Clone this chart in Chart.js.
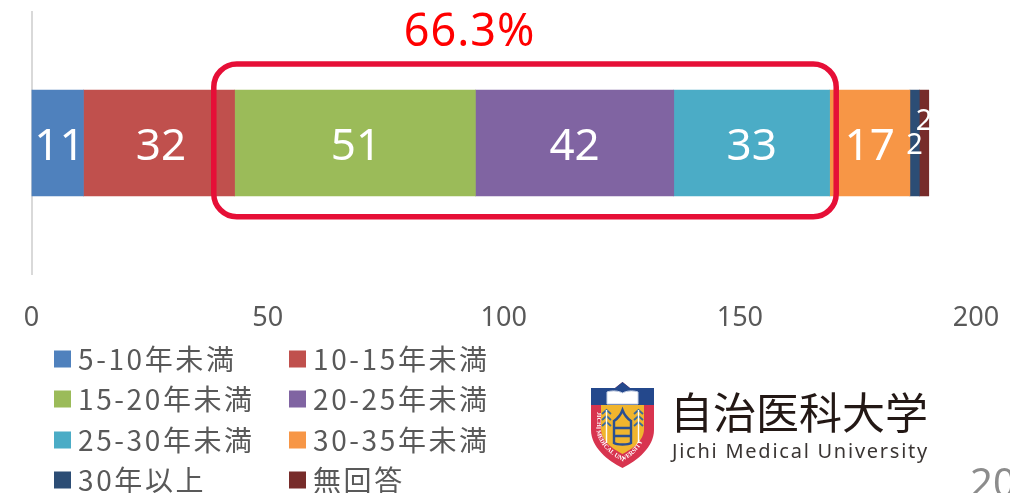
<!DOCTYPE html>
<html lang="ja">
<head>
<meta charset="utf-8">
<script src="https://cdn.jsdelivr.net/npm/chart.js@4"></script>
<style>
html,body{margin:0;padding:0;background:#fff;overflow:hidden;width:1010px;height:493px}
#wrap{position:relative;width:1010px;height:493px}
canvas{display:block}
svg{position:absolute;left:590px;top:381px}
</style>
</head>
<body>
<div id="wrap">
<canvas id="c" width="1010" height="493"></canvas>
<svg width="65" height="88" viewBox="0 0 65 88">
  <defs><path id="arc" d="M6.5 30 L6.5 47 C6.5 62 20 74 32.5 80 C45 74 58.5 62 58.5 30"/></defs>
  <path d="M32.5 1 L40 7 L64 7 L64 49 C64 66 47 80 32.5 87 C18 80 1 66 1 49 L1 7 L25 7 Z" fill="#d8344f"/>
  <path d="M32.5 1 L40 7 L64 7 L64 24 L1 24 L1 7 L25 7 Z" fill="#24488c"/>
  <path d="M11 24 L54 24 L54 48 C54 60 42 68 32.5 73 C23 68 11 60 11 48 Z" fill="#f0b52e"/>
  <path d="M17 11 C23 9 29 10 32.5 12 C36 10 42 9 48 11 L48 23 L17 23 Z" fill="#fff" stroke="#c9d3e6" stroke-width="1"/>
  <g fill="none" stroke="#2a4f92" stroke-width="2.4">
    <path d="M24 40 L24 62 C27 64 38 64 41 62 L41 40 C38 38 35 36 32.5 29 C30 36 27 38 24 40 Z"/>
    <path d="M24 47 L41 47 M24 55 L41 55"/>
  </g>
  <g fill="none" stroke="#3b6a99" stroke-width="1.8">
    <path d="M12 33 L16.5 29 L21 33 M12 39 L16.5 35 L21 39 M12 45 L16.5 41 L21 45"/>
    <path d="M44 33 L48.5 29 L53 33 M44 39 L48.5 35 L53 39 M44 45 L48.5 41 L53 45"/>
  </g>
  <path d="M16.5 29 L16.5 62 M48.5 29 L48.5 62" stroke="#fff" stroke-width="1.4"/>
  <text font-family="Liberation Serif" font-size="6.2" font-weight="bold" fill="#fff"><textPath href="#arc" startOffset="1">JICHI MEDICAL UNIVERSITY</textPath></text>
</svg>
</div>
<script>
const categories = [""];
const seriesNames = ["5-10年未満","10-15年未満","15-20年未満","20-25年未満","25-30年未満","30-35年未満","30年以上","無回答"];
const seriesValues = [11,32,51,42,33,17,2,2];
const seriesColors = ["#4f81bd","#c0504d","#9bbb59","#8064a2","#4bacc6","#f79646","#2c4d75","#772c2a"];
const tickValues = [0,50,100,150,200];
const highlightLabel = "66.3%";
const highlightFrom = 38.6;
const highlightTo = 170.4;
const universityName = "自治医科大学";
const universityNameEn = "Jichi Medical University";
const pageNumber = "20";

const labelNudge = [2,2,1,0,0,0,0,0];
const overlay = {
  id:"overlay",
  afterDatasetsDraw(chart){
    const {ctx,scales:{x}} = chart;
    ctx.save();
    ctx.fillStyle="#fff";
    ctx.textAlign="center";ctx.textBaseline="middle";
    let sum=0;
    seriesValues.forEach((v,i)=>{
      const small=i>=6;
      ctx.font=(small?"29px":"44px")+' "Noto Sans"';
      const cx=x.getPixelForValue(sum+v/2)+labelNudge[i];
      const y=i===7?122:(i===6?146:147);
      ctx.fillText(String(v),cx,y);
      sum+=v;
    });
    ctx.restore();
    ctx.save();
    ctx.strokeStyle="#e60f37";ctx.lineWidth=5.5;
    const l=x.getPixelForValue(highlightFrom),r=x.getPixelForValue(highlightTo);
    ctx.beginPath();ctx.roundRect(l,64,r-l,152.7,23);ctx.stroke();
    ctx.fillStyle="#ff0000";ctx.font='45px "Noto Sans"';
    ctx.letterSpacing="1px";
    ctx.textAlign="center";ctx.textBaseline="alphabetic";
    ctx.fillText(highlightLabel,469.5,46);
    ctx.restore();
    ctx.save();
    ctx.textAlign="left";ctx.textBaseline="middle";
    ctx.font='28px "Noto Sans CJK JP"';
    ctx.letterSpacing="2.6px";
    const xs=[54,289],ys=[359,399,440,480];
    seriesNames.forEach((n,i)=>{
      const cx=xs[i%2],cy=ys[Math.floor(i/2)];
      ctx.fillStyle=seriesColors[i];
      ctx.fillRect(cx,cy-8.5,17,17);
      ctx.fillStyle="#595959";
      ctx.fillText(n,cx+24,cy);
    });
    ctx.restore();
    ctx.save();
    ctx.textBaseline="alphabetic";ctx.textAlign="left";
    ctx.fillStyle="#231815";
    ctx.font='43px "Noto Sans CJK JP"';
    ctx.fillText(universityName,670,429);
    ctx.fillStyle="#3a3533";
    ctx.font='20px "Noto Sans"';
    ctx.letterSpacing="1.75px";
    ctx.fillText(universityNameEn,672,458);
    ctx.letterSpacing="0px";
    ctx.fillStyle="#8c8c8c";
    ctx.font='40px "Noto Sans"';
    ctx.fillText(pageNumber,970,497);
    ctx.restore();
  }
};

new Chart(document.getElementById("c"),{
  type:"bar",
  data:{
    labels:categories,
    datasets:seriesNames.map((n,i)=>({
      label:n,
      data:[seriesValues[i]],
      backgroundColor:seriesColors[i],
      borderWidth:0,
      barThickness:106
    }))
  },
  options:{
    indexAxis:"y",
    responsive:false,
    animation:false,
    layout:{padding:{left:31.5,right:34,top:12,bottom:159}},
    plugins:{legend:{display:false},tooltip:{enabled:false},title:{display:false}},
    scales:{
      x:{
        stacked:true,min:0,max:200,
        grid:{display:false},
        border:{display:false},
        afterFit(s){s.height=60;s.paddingLeft=0;s.paddingRight=0;},
        afterBuildTicks(s){s.ticks=tickValues.map(v=>({value:v}));},
        ticks:{color:"#595959",padding:20,maxRotation:0,font:{family:'"Noto Sans"',size:27}}
      },
      y:{
        stacked:true,
        grid:{display:false,drawTicks:false},
        border:{display:true,color:"#d9d9d9",width:2},
        afterFit(s){s.width=0;},
        ticks:{display:false}
      }
    }
  },
  plugins:[overlay]
});
</script>
</body>
</html>
